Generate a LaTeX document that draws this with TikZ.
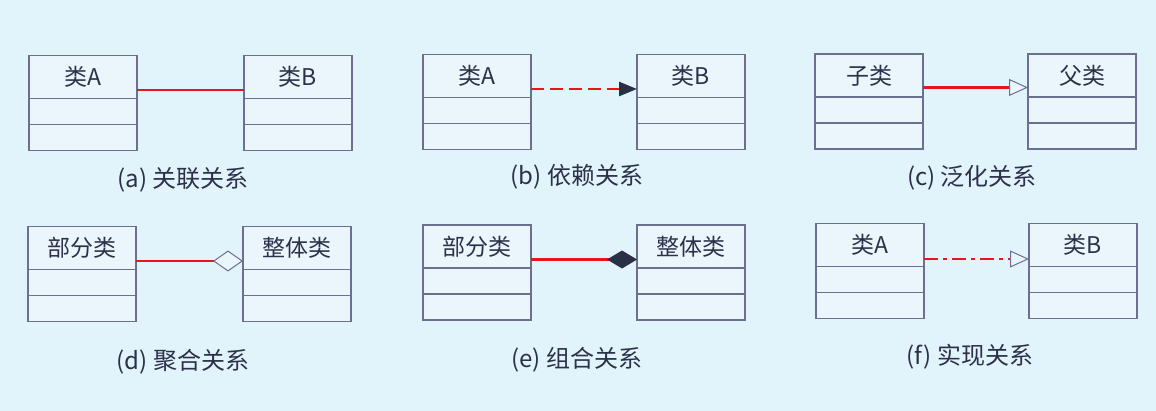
\documentclass[tikz,border=0pt]{standalone}
\usepackage{fontspec}
\setmainfont{Noto Sans CJK SC}
\usepackage{tikz}
\usetikzlibrary{positioning,arrows.meta}

\definecolor{bgblue}{HTML}{E1F3FB}
\definecolor{boxfill}{HTML}{EAF6FC}
\definecolor{boxline}{HTML}{6B7090}
\definecolor{textnavy}{HTML}{2C3149}
\definecolor{relred}{HTML}{E8141E}
\definecolor{tipnavy}{HTML}{2A2F45}

\begin{document}
\begin{tikzpicture}[%
        x=1pt, y=-1pt,
        node distance=0pt,
        classhead/.style={%
          draw=boxline, line width=1.1pt, fill=boxfill,
          minimum width=108pt, minimum height=43pt,
          inner sep=0pt, outer sep=0pt,
          text=textnavy, font=\fontsize{23}{25}\selectfont
        },
        classparts/.style={%
          draw=boxline, line width=1.1pt, fill=boxfill,
          minimum width=108pt, minimum height=52pt,
          inner sep=0pt, outer sep=0pt,
          path picture={\draw[boxline, line width=1.1pt]
            (path picture bounding box.west) -- (path picture bounding box.east);}
        },
        captext/.style={text=textnavy, font=\fontsize{24}{26}\selectfont},
        rel/.style={draw=relred, line width=2.6pt},
        assoc/.style={rel},
        depend/.style={rel, dash pattern=on 13pt off 6pt,
          -{Triangle[length=18pt, width=14pt, color=tipnavy]}},
        general/.style={rel,
          -{Triangle[length=19pt, width=17pt, line width=1pt, color=boxline, fill=boxfill]}},
        aggreg/.style={rel,
          -{Diamond[length=30pt, width=21pt, line width=1pt, color=boxline, fill=boxfill]}},
        compos/.style={rel,
          -{Diamond[length=30pt, width=18pt, color=tipnavy]}},
        realize/.style={rel, dash pattern=on 14pt off 5pt on 4pt off 5pt,
          -{Triangle[length=19pt, width=17pt, line width=1pt, color=boxline, fill=boxfill]}}
      ]
      \path[use as bounding box, fill=bgblue] (0,0) rectangle (1156,411);

      % (a)
      \node[classhead] (aA) at (83,77) {类A};
      \node[classparts] (aAp) [below=of aA] {};
      \node[classhead] (aB) at (298,77) {类B};
      \node[classparts] (aBp) [below=of aB] {};
      \node[captext] (aCap) at (183,180) {(a) 关联关系};

      % (b)
      \node[classhead] (bA) at (477,76) {类A};
      \node[classparts] (bAp) [below=of bA] {};
      \node[classhead] (bB) at (691,76) {类B};
      \node[classparts] (bBp) [below=of bB] {};
      \node[captext] (bCap) at (577,177) {(b) 依赖关系};

      % (c)
      \node[classhead] (cA) at (869,75.5) {子类};
      \node[classparts] (cAp) [below=of cA] {};
      \node[classhead] (cB) at (1082,75.5) {父类};
      \node[classparts] (cBp) [below=of cB] {};
      \node[captext] (cCap) at (972,178) {(c) 泛化关系};

      % (d)
      \node[classhead] (dA) at (82,248) {部分类};
      \node[classparts] (dAp) [below=of dA] {};
      \node[classhead] (dB) at (297,248) {整体类};
      \node[classparts] (dBp) [below=of dB] {};
      \node[captext] (dCap) at (183,362) {(d) 聚合关系};

      % (e)
      \node[classhead] (eA) at (477,246.5) {部分类};
      \node[classparts] (eAp) [below=of eA] {};
      \node[classhead] (eB) at (691,246.5) {整体类};
      \node[classparts] (eBp) [below=of eB] {};
      \node[captext] (eCap) at (577,360) {(e) 组合关系};

      % (f)
      \node[classhead] (fA) at (870,245) {类A};
      \node[classparts] (fAp) [below=of fA] {};
      \node[classhead] (fB) at (1083,245) {类B};
      \node[classparts] (fBp) [below=of fB] {};
      \node[captext] (fCap) at (970,357) {(f) 实现关系};

      \path ([yshift=-13pt]aA.east) edge [assoc] ([yshift=-13pt]aB.west)
      ([yshift=-13pt]bA.east) edge [depend] ([yshift=-13pt]bB.west)
      ([yshift=-12pt]cA.east) edge [general] ([yshift=-12pt]cB.west)
      ([yshift=-13pt]dA.east) edge [aggreg] ([yshift=-13pt]dB.west)
      ([yshift=-13pt]eA.east) edge [compos] ([yshift=-13pt]eB.west)
      ([yshift=-14pt]fA.east) edge [realize] ([yshift=-14pt]fB.west);

  \end{tikzpicture}
\end{document}
